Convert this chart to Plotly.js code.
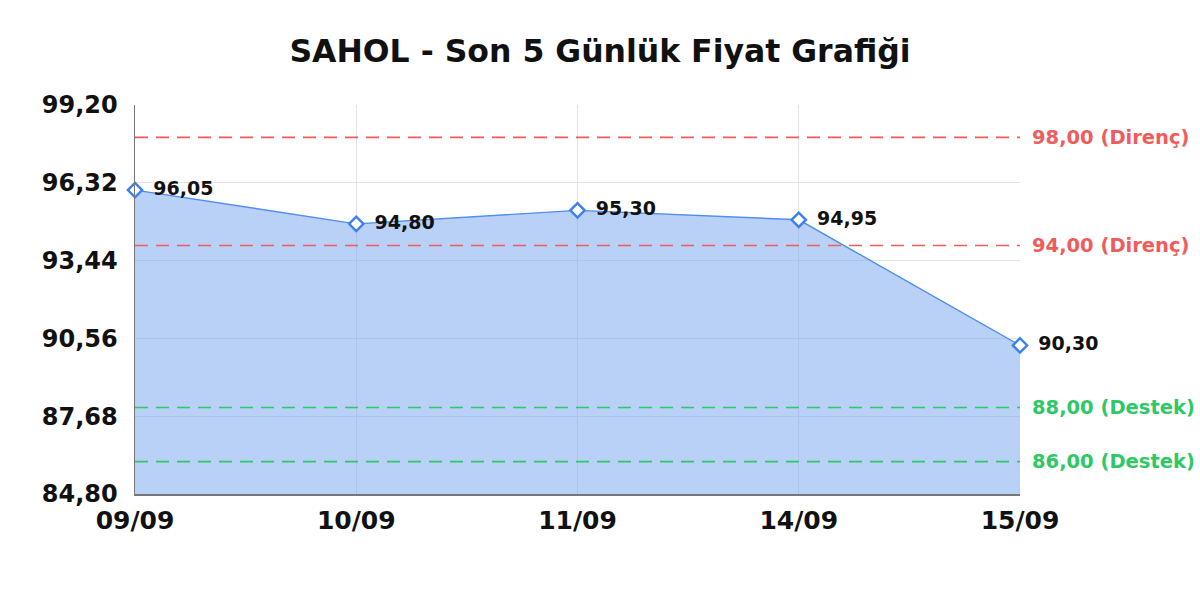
<!DOCTYPE html>
<html>
<head>
<meta charset="utf-8">
<script src="https://cdn.plot.ly/plotly-3.0.1.min.js"></script>
<style>
  html, body { margin: 0; padding: 0; background: #fff; }
  #chart { width: 1200px; height: 600px; }
</style>
</head>
<body>
<div id="chart"></div>
<script>
// data
const days = ['09/09', '10/09', '11/09', '14/09', '15/09'];
const prices = [96.05, 94.80, 95.30, 94.95, 90.30];
const yTicks = [84.80, 87.68, 90.56, 93.44, 96.32, 99.20];
const resistance = [98.00, 94.00];
const support = [88.00, 86.00];

const fmt = v => v.toFixed(2).replace('.', ',');
const font = '"DejaVu Sans", sans-serif';
const red = '#f05c5c';
const green = '#2ec866';

const priceTrace = {
    x: days,
    y: prices,
    type: 'scatter',
    mode: 'lines+markers+text',
    fill: 'tozeroy',
    fillcolor: 'rgba(120, 165, 240, 0.52)',
    line: { color: '#4f8ef2', width: 1.4 },
    marker: {
        symbol: 'diamond',
        size: 11,
        color: '#ffffff',
        line: { width: 2.4, color: '#3d7ff0' },
    },
    text: prices.map(v => ' \u2009' + fmt(v)),
    textposition: 'middle right',
    textfont: { family: font, size: 19, color: '#111', weight: 'bold' },
    cliponaxis: false,
    hoverinfo: 'x+y',
};

const levelLine = (y, color) => ({
    type: 'line', xref: 'paper', yref: 'y',
    x0: 0, x1: 1, y0: y, y1: y,
    line: { color: color, width: 1.6, dash: '13px,8px' },
});

const levelNote = (y, color, label) => ({
    xref: 'paper', yref: 'y', x: 1, y: y,
    xanchor: 'left', yanchor: 'middle', xshift: 10,
    showarrow: false,
    text: fmt(y) + ' (' + label + ')',
    font: { family: font, size: 19.5, color: color, weight: 'bold' },
});

const layout = {
    width: 1200,
    height: 600,
    margin: { l: 135, r: 180, t: 105, b: 106 },
    paper_bgcolor: '#fff',
    plot_bgcolor: '#fff',
    font: { family: font, color: '#111' },
    showlegend: false,
    title: {
        text: '<b>SAHOL - Son 5 Günlük Fiyat Grafiği</b>',
        font: { family: font, size: 31.5, color: '#111' },
        x: 0.5, xanchor: 'center',
        y: 0.915, yanchor: 'middle',
    },
    xaxis: {
        type: 'category',
        range: [0, 4],
        showgrid: true,
        gridcolor: '#e4e4e4',
        showline: true,
        linecolor: '#777',
        linewidth: 1.5,
        ticks: '',
        ticklabelstandoff: 3,
        tickfont: { family: font, size: 25, color: '#111', weight: 'bold' },
        zeroline: false,
    },
    yaxis: {
        range: [yTicks[0], yTicks[yTicks.length - 1]],
        tickvals: yTicks,
        ticktext: yTicks.map(fmt),
        showgrid: true,
        gridcolor: '#e4e4e4',
        showline: true,
        linecolor: '#777',
        linewidth: 1.5,
        ticks: '',
        ticklabelstandoff: 11,
        tickfont: { family: font, size: 24, color: '#111', weight: 'bold' },
        zeroline: false,
    },
    shapes: [
        ...resistance.map(y => levelLine(y, red)),
        ...support.map(y => levelLine(y, green)),
    ],
    annotations: [
        ...resistance.map(y => levelNote(y, red, 'Direnç')),
        ...support.map(y => levelNote(y, green, 'Destek')),
    ],
};

Plotly.newPlot('chart', [priceTrace], layout, { staticPlot: true, displayModeBar: false });
</script>
</body>
</html>
